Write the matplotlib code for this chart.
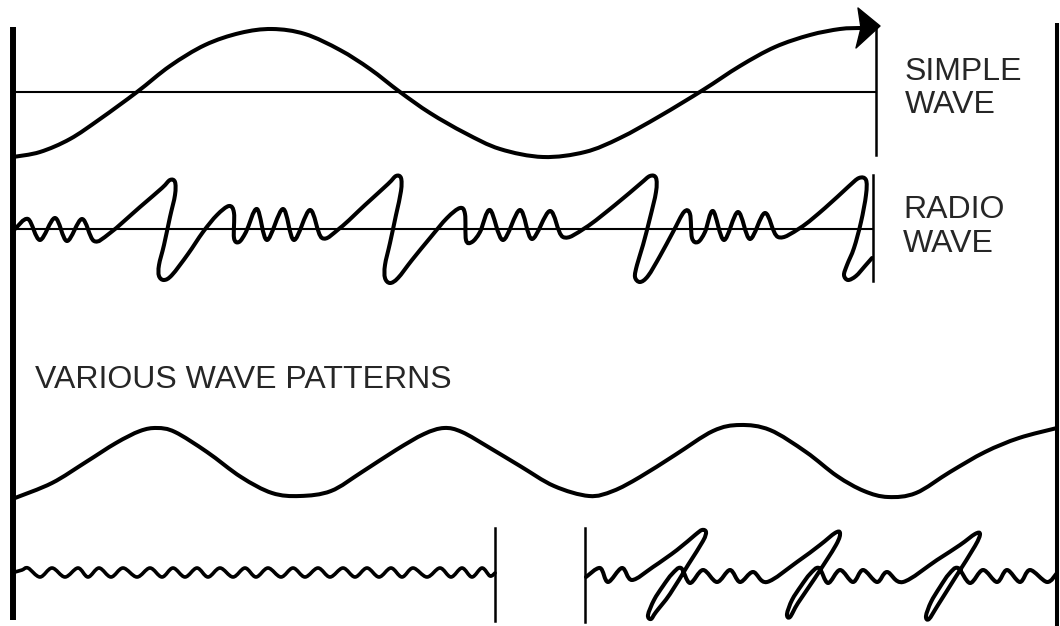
import numpy as np
import matplotlib
matplotlib.use('Agg')
import matplotlib.pyplot as plt
from matplotlib.path import Path
from matplotlib.patches import PathPatch, Polygon

# points, pixel coords (x right, y down)
simple_wave = [(13, 157), (40, 152), (70, 139), (100, 119), (137, 92), (170, 66),
               (205, 45), (240, 33), (272, 29), (305, 34), (340, 50), (370, 69),
               (400, 92), (430, 113), (465, 133), (500, 149), (543, 157),
               (585, 152), (620, 138), (660, 116), (703, 90), (740, 66),
               (775, 47), (810, 35), (840, 29), (860, 28)]
arrow_head = [(858, 8), (880, 26), (856, 48), (861, 28)]

radio_wave = [(15, 229), (28, 219), (40, 240), (55, 218), (67, 241), (82, 219), (94, 241),
              (110, 233), (140, 207), (162, 188), (170, 180), (175, 182),
              (175, 195), (170, 217), (164, 245), (159, 265), (159, 276),
              (164, 280), (172, 275), (188, 254), (203, 232), (217, 215), (229, 206),
              (234, 213), (234, 238), (239, 242), (246, 232),
              (257, 209), (267, 240), (283, 209), (294, 240), (310, 210), (322, 238),
              (340, 228), (365, 205), (388, 184), (396, 176), (401, 178),
              (401, 191), (396, 215), (390, 243), (385, 265), (385, 278),
              (390, 283), (398, 278), (412, 260), (430, 238), (447, 218), (460, 208),
              (465, 214), (466, 240), (472, 242), (480, 232),
              (490, 210), (503, 240), (520, 210), (532, 239), (550, 211), (563, 237),
              (585, 228), (615, 205), (640, 184), (650, 176), (656, 178),
              (656, 192), (650, 218), (643, 245), (637, 265), (635, 277),
              (640, 282), (648, 276), (660, 256), (673, 232), (684, 212),
              (690, 214), (692, 238), (698, 242), (705, 232),
              (713, 211), (724, 240), (738, 212), (750, 239), (765, 213), (778, 237),
              (800, 228), (825, 208), (848, 187), (859, 178), (866, 180),
              (866, 195), (861, 222), (854, 248), (847, 265), (844, 275),
              (848, 280), (856, 276), (865, 266), (872, 258)]

pattern_wave = [(15, 498), (52, 483), (86, 462), (116, 443), (140, 431), (157, 428),
                (175, 432), (207, 452), (241, 477), (272, 493), (300, 496), (331, 491),
                (362, 472), (396, 450), (424, 434), (444, 428), (462, 432), (490, 448),
                (520, 466), (554, 486), (589, 496), (613, 491), (640, 477), (675, 455),
                (713, 431), (740, 425), (770, 430), (806, 452), (837, 476), (864, 491),
                (888, 497), (916, 493), (950, 472), (985, 452), (1019, 438), (1057, 428)]

ripple_x = [15, 22, 28, 40, 52, 65, 78, 88, 99, 111, 123, 137, 150, 162, 173, 185, 197,
            208, 220, 233, 245, 256, 268, 281, 293, 305, 318, 330, 343, 355, 367, 379,
            391, 402, 413, 427, 440, 451, 462, 472, 482, 490, 495]
ripple_y = [572, 570, 568, 577, 568, 577, 568, 577, 568, 577, 568, 577, 568, 577, 568, 577, 568,
            577, 568, 577, 568, 577, 568, 577, 568, 577, 568, 577, 568, 577, 568, 577,
            568, 577, 568, 577, 568, 577, 568, 577, 568, 576, 573]

saw_wave = [(586, 577), (600, 568), (608, 582), (622, 568), (632, 580),
            (653, 567), (677, 550), (695, 535), (702, 530), (706, 532),
            (703, 541), (688, 565), (670, 594), (656, 612), (651, 619),
            (648, 615), (654, 600), (663, 586), (672, 574), (681, 568),
            (690, 583), (703, 570), (717, 582), (730, 570), (740, 582), (753, 572), (767, 582),
            (797, 562), (820, 545), (835, 533), (840, 533),
            (836, 545), (815, 578), (798, 603), (790, 617),
            (787, 614), (792, 600), (801, 586), (810, 574), (819, 568),
            (828, 583), (840, 570), (853, 582), (863, 570), (877, 582), (887, 572), (903, 582),
            (937, 560), (960, 545), (975, 534), (980, 534),
            (975, 546), (955, 578), (938, 605), (929, 619),
            (926, 616), (931, 602), (940, 587), (949, 574), (958, 568),
            (970, 583), (983, 570), (997, 582), (1007, 570), (1020, 582), (1030, 570),
            (1047, 582), (1057, 573)]

labels = [(905, 80, 'SIMPLE'), (905, 113, 'WAVE'),
          (903, 218, 'RADIO'), (903, 252, 'WAVE'),
          (35, 388, 'VARIOUS WAVE PATTERNS')]


def smooth(pts, lw=2.9):
    # catmull-rom through the points, drawn as cubic bezier
    p = np.asarray(pts, float)
    e = np.vstack([p[0], p, p[-1]])
    verts = [p[0]]
    codes = [Path.MOVETO]
    for i in range(1, len(e) - 2):
        c1 = e[i] + (e[i + 1] - e[i - 1]) / 6
        c2 = e[i + 1] - (e[i + 2] - e[i]) / 6
        verts += [c1, c2, e[i + 1]]
        codes += [Path.CURVE4] * 3
    ax.add_patch(PathPatch(Path(verts, codes), fill=False, lw=lw, ec='black',
                           capstyle='round', joinstyle='round'))


fig = plt.figure(figsize=(10.6, 6.26), dpi=100)
ax = fig.add_axes([0, 0, 1, 1])
ax.set_xlim(0, 1060)
ax.set_ylim(626, 0)
ax.axis('off')

# frame bars and guide lines
ax.plot([13, 13], [27, 620], color='black', lw=4.3, solid_capstyle='butt')
ax.plot([1057, 1057], [23, 626], color='black', lw=2.9, solid_capstyle='butt')
ax.plot([13, 876], [92, 92], color='black', lw=1.5)
ax.plot([876, 876], [27, 155], color='black', lw=1.8)
ax.plot([13, 873], [229, 229], color='black', lw=1.5)
ax.plot([873, 873], [175, 281], color='black', lw=1.8)
ax.plot([495, 495], [528, 621], color='black', lw=1.8)
ax.plot([585, 585], [528, 622], color='black', lw=1.8)

smooth(simple_wave)
ax.add_patch(Polygon(arrow_head, closed=True, fc='black', ec='black', lw=1, joinstyle='round'))
smooth(radio_wave)
smooth(pattern_wave)
smooth(list(zip(ripple_x, ripple_y)), lw=2.6)
smooth(saw_wave)

for x, y, s in labels:
    ax.text(x, y, s, fontsize=23, family='Liberation Sans', color='#262626',
            ha='left', va='baseline')

fig.savefig('out.png', dpi=100)
